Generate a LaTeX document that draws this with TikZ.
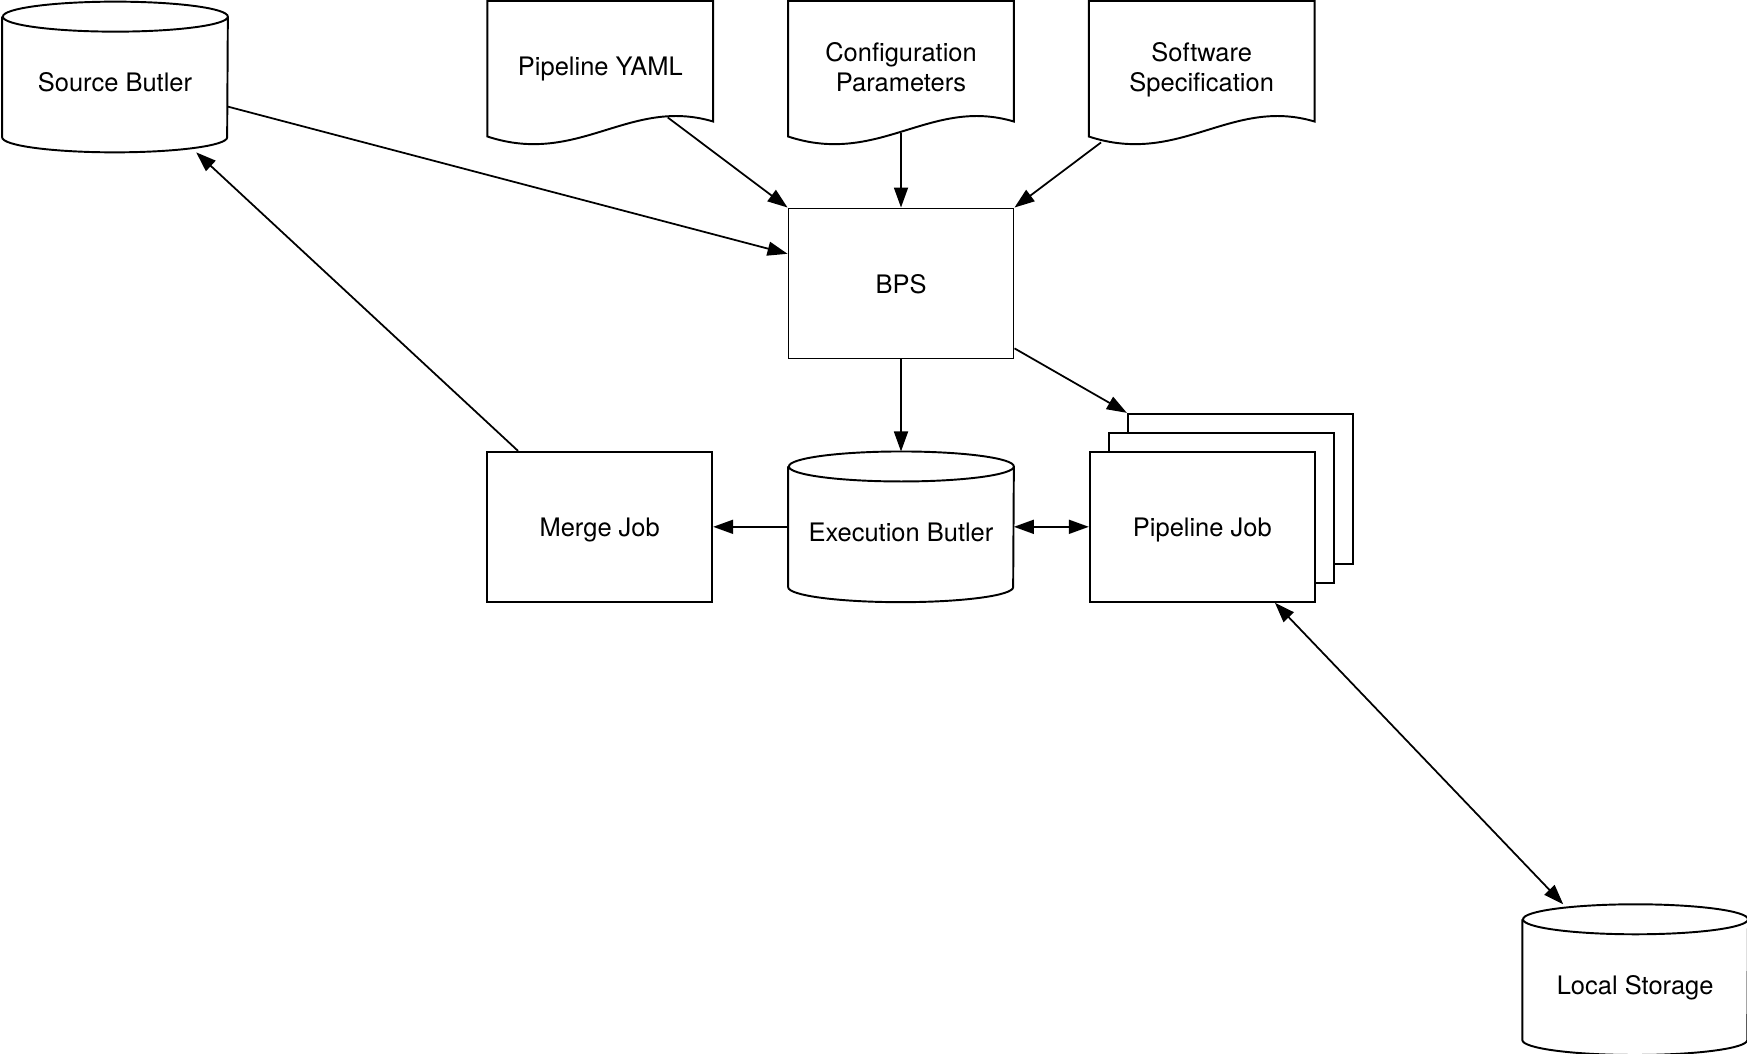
\documentclass[tikz,border=0pt]{standalone}
\usepackage{fontspec}
\setmainfont{TeX Gyre Heros}
\usetikzlibrary{arrows.meta,positioning}
\tikzset{
  blk/.style={draw, rectangle, fill=white, minimum height=3cm, minimum width=4.5cm, align=center, font=\fontsize{14.5}{17}\selectfont, text depth=0pt, line width=1.1pt},
  doc/.style={rectangle, minimum height=2.62cm, minimum width=4.5cm, align=center, font=\fontsize{14.5}{17}\selectfont, text depth=0pt},
  cyl/.style={rectangle, minimum height=3cm, minimum width=4.5cm, align=center, font=\fontsize{14.5}{17}\selectfont, text height=17pt, text depth=0pt},
  jobstack/.style={preaction={draw, fill=white, transform canvas={shift={(0.76cm,0.76cm)}}}, preaction={draw, fill=white, transform canvas={shift={(0.38cm,0.38cm)}}}},
  arr/.style={-{Triangle[length=0.4cm, width=0.28cm]}, line width=1pt},
  darr/.style={{Triangle[length=0.4cm, width=0.28cm]}-{Triangle[length=0.4cm, width=0.28cm]}, line width=1pt},
}
\begin{document}
\begin{tikzpicture}[node distance=1.5cm]
\useasboundingbox (0,0) rectangle (34.94,-21.08);

\node[blk] (bps) at (18.02,-5.67) {BPS};
\node[doc, above=of bps] (conf) {Configuration\\Parameters};
\node[doc, left=of conf] (yaml) {Pipeline YAML};
\node[doc, right=of conf] (soft) {Software\\Specification};
\node[cyl] (src) at (2.3,-1.54) {Source Butler};

\node[cyl, below=1.84cm of bps] (exec) {Execution Butler};
\node[blk, left=of exec] (merge) {Merge Job};
\node[blk, jobstack, right=of exec] (pipe) {Pipeline Job};
\node[cyl, below right=6.03cm and 4.13cm of pipe] (local) {Local Storage};

\foreach \n in {yaml,conf,soft}
  \draw[line width=1.1pt] ([yshift=-0.08cm]\n.south west) -- (\n.north west) -- (\n.north east) -- ([yshift=0.22cm]\n.south east)
    .. controls ([shift={(-1.67cm,0.72cm)}]\n.south east) and ([shift={(1.82cm,-0.68cm)}]\n.south west) .. ([yshift=-0.08cm]\n.south west) -- cycle;
\foreach \n in {src,exec,local}
  \draw[line width=1.1pt] ([yshift=-0.3cm]\n.north west) -- ([yshift=0.3cm]\n.south west)
    arc[start angle=180, end angle=360, x radius=2.25cm, y radius=0.3cm] -- ([yshift=-0.3cm]\n.north east)
    arc[start angle=0, end angle=360, x radius=2.25cm, y radius=0.3cm];

\draw[arr, shorten <=-0.5cm] (yaml) -- (bps.north west);
\draw[arr] (conf) -- (bps);
\draw[arr, shorten <=0.33cm] (soft) -- (bps.north east);
\draw[arr] (src) -- (bps);
\draw[arr] (bps) -- (exec);
\draw[arr] (bps) -- ([shift={(0.76cm,0.76cm)}]pipe.north west);
\draw[arr] (exec) -- (merge);
\draw[darr] (exec) -- (pipe);
\draw[arr] (merge) -- (src);
\draw[darr] (pipe) -- (local);

\end{tikzpicture}
\end{document}
